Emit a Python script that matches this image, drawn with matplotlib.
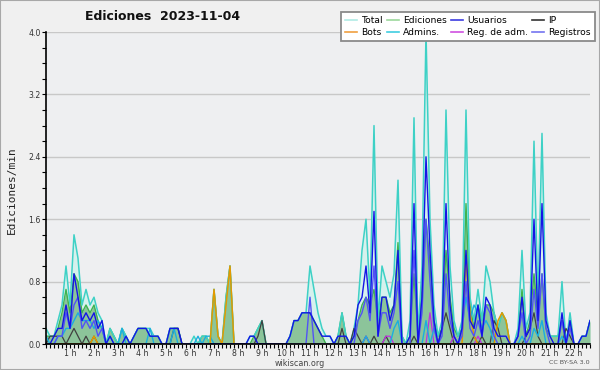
import numpy as np
import matplotlib
matplotlib.use("Agg")
import matplotlib.pyplot as plt
from matplotlib.lines import Line2D
from matplotlib.patches import Rectangle
from matplotlib.ticker import MultipleLocator, FixedLocator, FuncFormatter

# 10-minute steps from 0h00 to 22h40, edits per minute
total = [
    0.2, 0.1, 0.1, 0.3, 0.5, 1.0,
    0.5, 1.4, 1.1, 0.5, 0.7, 0.5,
    0.6, 0.4, 0.3, 0.0, 0.2, 0.1,
    0.0, 0.2, 0.1, 0.0, 0.1, 0.2,
    0.2, 0.2, 0.2, 0.1, 0.1, 0.0,
    0.0, 0.2, 0.2, 0.2, 0.0, 0.0,
    0.0, 0.1, 0.0, 0.1, 0.1, 0.0,
    0.7, 0.1, 0.0, 0.6, 1.0, 0.0,
    0.0, 0.0, 0.0, 0.1, 0.1, 0.2,
    0.3, 0.0, 0.0, 0.0, 0.0, 0.0,
    0.0, 0.1, 0.3, 0.3, 0.4, 0.4,
    1.0, 0.7, 0.4, 0.2, 0.1, 0.1,
    0.0, 0.1, 0.4, 0.1, 0.0, 0.2,
    0.5, 1.2, 1.6, 0.6, 2.8, 0.3,
    1.0, 0.8, 0.6, 0.9, 2.1, 0.1,
    0.0, 0.3, 2.9, 0.1, 1.0, 4.0,
    1.6, 0.5, 0.1, 0.3, 3.0, 1.0,
    0.3, 0.1, 0.3, 3.0, 0.6, 0.3,
    0.7, 0.3, 1.0, 0.8, 0.4, 0.2,
    0.4, 0.3, 0.0, 0.0, 0.2, 1.2,
    0.2, 0.4, 2.6, 0.5, 2.7, 0.4,
    0.1, 0.1, 0.1, 0.8, 0.0, 0.4,
    0.0, 0.0, 0.1, 0.1, 0.3,
]
ediciones = [
    0.1, 0.1, 0.1, 0.2, 0.4, 0.7,
    0.4, 0.9, 0.8, 0.4, 0.5, 0.4,
    0.5, 0.3, 0.2, 0.0, 0.2, 0.1,
    0.0, 0.2, 0.1, 0.0, 0.1, 0.2,
    0.2, 0.2, 0.1, 0.1, 0.1, 0.0,
    0.0, 0.2, 0.2, 0.2, 0.0, 0.0,
    0.0, 0.0, 0.0, 0.1, 0.1, 0.0,
    0.7, 0.1, 0.0, 0.6, 1.0, 0.0,
    0.0, 0.0, 0.0, 0.0, 0.1, 0.2,
    0.3, 0.0, 0.0, 0.0, 0.0, 0.0,
    0.0, 0.1, 0.3, 0.3, 0.4, 0.4,
    0.4, 0.3, 0.2, 0.1, 0.0, 0.0,
    0.0, 0.1, 0.4, 0.1, 0.0, 0.1,
    0.3, 0.5, 0.6, 0.5, 0.7, 0.3,
    0.6, 0.6, 0.4, 0.5, 1.3, 0.1,
    0.0, 0.1, 0.9, 0.1, 0.7, 1.6,
    1.0, 0.3, 0.1, 0.2, 1.2, 0.6,
    0.2, 0.1, 0.2, 1.8, 0.5, 0.2,
    0.5, 0.3, 0.5, 0.5, 0.4, 0.2,
    0.4, 0.3, 0.0, 0.0, 0.1, 0.7,
    0.1, 0.3, 0.9, 0.3, 0.9, 0.2,
    0.1, 0.1, 0.1, 0.3, 0.0, 0.3,
    0.0, 0.0, 0.1, 0.1, 0.3,
]
usuarios = [
    0.0, 0.0, 0.1, 0.2, 0.2, 0.5,
    0.2, 0.9, 0.6, 0.3, 0.4, 0.3,
    0.4, 0.2, 0.3, 0.0, 0.1, 0.0,
    0.0, 0.0, 0.1, 0.0, 0.1, 0.2,
    0.2, 0.2, 0.1, 0.1, 0.1, 0.0,
    0.0, 0.2, 0.2, 0.2, 0.0, 0.0,
    0.0, 0.0, 0.0, 0.0, 0.0, 0.0,
    0.0, 0.0, 0.0, 0.0, 0.0, 0.0,
    0.0, 0.0, 0.0, 0.1, 0.1, 0.0,
    0.0, 0.0, 0.0, 0.0, 0.0, 0.0,
    0.0, 0.1, 0.3, 0.3, 0.4, 0.4,
    0.4, 0.3, 0.2, 0.1, 0.1, 0.1,
    0.0, 0.1, 0.1, 0.1, 0.0, 0.1,
    0.5, 0.6, 1.0, 0.4, 1.7, 0.1,
    0.6, 0.6, 0.3, 0.5, 1.2, 0.0,
    0.0, 0.1, 1.8, 0.0, 0.6, 2.4,
    1.2, 0.3, 0.0, 0.2, 1.8, 0.5,
    0.1, 0.0, 0.2, 1.2, 0.3, 0.2,
    0.5, 0.1, 0.6, 0.5, 0.2, 0.1,
    0.1, 0.1, 0.0, 0.0, 0.1, 0.6,
    0.1, 0.2, 1.6, 0.3, 1.8, 0.3,
    0.1, 0.0, 0.0, 0.4, 0.0, 0.3,
    0.0, 0.0, 0.1, 0.1, 0.3,
]
registros = [
    0.0, 0.0, 0.0, 0.1, 0.1, 0.4,
    0.2, 0.5, 0.6, 0.2, 0.3, 0.2,
    0.3, 0.1, 0.2, 0.0, 0.0, 0.0,
    0.0, 0.0, 0.0, 0.0, 0.0, 0.0,
    0.0, 0.0, 0.0, 0.0, 0.0, 0.0,
    0.0, 0.0, 0.0, 0.0, 0.0, 0.0,
    0.0, 0.0, 0.0, 0.0, 0.0, 0.0,
    0.0, 0.0, 0.0, 0.0, 0.0, 0.0,
    0.0, 0.0, 0.0, 0.0, 0.0, 0.0,
    0.0, 0.0, 0.0, 0.0, 0.0, 0.0,
    0.0, 0.0, 0.0, 0.0, 0.0, 0.0,
    0.6, 0.0, 0.0, 0.0, 0.0, 0.0,
    0.0, 0.0, 0.0, 0.0, 0.0, 0.0,
    0.3, 0.4, 0.6, 0.3, 1.0, 0.1,
    0.4, 0.4, 0.2, 0.4, 0.8, 0.0,
    0.0, 0.0, 1.2, 0.0, 0.4, 1.6,
    0.8, 0.2, 0.0, 0.1, 0.9, 0.3,
    0.1, 0.0, 0.1, 0.8, 0.2, 0.1,
    0.3, 0.1, 0.5, 0.4, 0.1, 0.0,
    0.0, 0.0, 0.0, 0.0, 0.1, 0.4,
    0.0, 0.1, 0.7, 0.2, 0.9, 0.2,
    0.0, 0.0, 0.0, 0.3, 0.0, 0.2,
    0.0, 0.0, 0.0, 0.0, 0.0,
]
ip = [
    0.0, 0.1, 0.1, 0.1, 0.1, 0.0,
    0.1, 0.2, 0.1, 0.0, 0.1, 0.0,
    0.1, 0.0, 0.0, 0.0, 0.0, 0.0,
    0.0, 0.0, 0.0, 0.0, 0.0, 0.0,
    0.0, 0.0, 0.0, 0.0, 0.0, 0.0,
    0.0, 0.0, 0.2, 0.2, 0.0, 0.0,
    0.0, 0.0, 0.0, 0.0, 0.0, 0.0,
    0.0, 0.0, 0.0, 0.0, 0.0, 0.0,
    0.0, 0.0, 0.0, 0.0, 0.0, 0.1,
    0.3, 0.0, 0.0, 0.0, 0.0, 0.0,
    0.0, 0.0, 0.0, 0.0, 0.0, 0.0,
    0.0, 0.0, 0.0, 0.0, 0.0, 0.0,
    0.0, 0.0, 0.2, 0.0, 0.0, 0.2,
    0.1, 0.0, 0.1, 0.0, 0.1, 0.0,
    0.0, 0.1, 0.0, 0.0, 0.0, 0.0,
    0.0, 0.0, 0.1, 0.0, 0.0, 0.0,
    0.0, 0.0, 0.0, 0.2, 0.4, 0.2,
    0.0, 0.0, 0.0, 0.0, 0.0, 0.1,
    0.0, 0.1, 0.0, 0.0, 0.3, 0.2,
    0.0, 0.0, 0.0, 0.0, 0.0, 0.0,
    0.1, 0.2, 0.4, 0.1, 0.0, 0.0,
    0.0, 0.0, 0.0, 0.0, 0.2, 0.1,
    0.0, 0.0, 0.0, 0.0, 0.0,
]
admins = [
    0.1, 0.0, 0.0, 0.1, 0.1, 0.2,
    0.2, 0.3, 0.4, 0.3, 0.3, 0.3,
    0.2, 0.3, 0.2, 0.0, 0.1, 0.0,
    0.0, 0.2, 0.0, 0.0, 0.0, 0.0,
    0.0, 0.0, 0.2, 0.0, 0.0, 0.0,
    0.0, 0.0, 0.2, 0.0, 0.0, 0.0,
    0.0, 0.0, 0.1, 0.0, 0.1, 0.1,
    0.0, 0.0, 0.0, 0.0, 0.0, 0.0,
    0.0, 0.0, 0.0, 0.0, 0.0, 0.0,
    0.0, 0.0, 0.0, 0.0, 0.0, 0.0,
    0.0, 0.0, 0.0, 0.0, 0.0, 0.0,
    0.0, 0.0, 0.0, 0.0, 0.0, 0.0,
    0.0, 0.0, 0.0, 0.0, 0.0, 0.0,
    0.0, 0.0, 0.1, 0.0, 0.0, 0.0,
    0.0, 0.0, 0.0, 0.2, 0.3, 0.0,
    0.0, 0.0, 0.0, 0.0, 0.0, 0.3,
    0.0, 0.2, 0.0, 0.0, 0.0, 0.0,
    0.0, 0.0, 0.2, 0.6, 0.3, 0.5,
    0.4, 0.2, 0.3, 0.2, 0.0, 0.0,
    0.0, 0.0, 0.0, 0.0, 0.0, 0.1,
    0.0, 0.0, 0.2, 0.1, 0.3, 0.0,
    0.0, 0.0, 0.0, 0.1, 0.0, 0.0,
    0.0, 0.0, 0.0, 0.0, 0.0,
]
bots = [
    0.0, 0.0, 0.0, 0.0, 0.0, 0.0,
    0.0, 0.0, 0.0, 0.0, 0.0, 0.0,
    0.1, 0.0, 0.0, 0.0, 0.0, 0.0,
    0.0, 0.0, 0.0, 0.0, 0.0, 0.0,
    0.0, 0.0, 0.0, 0.0, 0.0, 0.0,
    0.0, 0.0, 0.0, 0.0, 0.0, 0.0,
    0.0, 0.0, 0.0, 0.0, 0.0, 0.0,
    0.7, 0.1, 0.0, 0.5, 1.0, 0.0,
    0.0, 0.0, 0.0, 0.0, 0.0, 0.0,
    0.0, 0.0, 0.0, 0.0, 0.0, 0.0,
    0.0, 0.0, 0.0, 0.0, 0.0, 0.0,
    0.0, 0.0, 0.0, 0.0, 0.0, 0.0,
    0.0, 0.0, 0.0, 0.0, 0.0, 0.0,
    0.0, 0.0, 0.0, 0.0, 0.0, 0.0,
    0.0, 0.0, 0.0, 0.0, 0.0, 0.0,
    0.0, 0.0, 0.0, 0.0, 0.0, 0.0,
    0.0, 0.0, 0.0, 0.0, 0.0, 0.0,
    0.0, 0.0, 0.0, 1.1, 0.4, 0.1,
    0.0, 0.0, 0.0, 0.0, 0.0, 0.3,
    0.4, 0.3, 0.0, 0.0, 0.0, 0.0,
    0.0, 0.0, 0.0, 0.0, 0.0, 0.0,
    0.0, 0.0, 0.0, 0.0, 0.0, 0.0,
    0.0, 0.0, 0.0, 0.0, 0.0,
]
reg_adm = [
    0.0, 0.0, 0.0, 0.0, 0.0, 0.0,
    0.0, 0.0, 0.0, 0.0, 0.0, 0.0,
    0.0, 0.0, 0.0, 0.0, 0.0, 0.0,
    0.0, 0.0, 0.0, 0.0, 0.0, 0.0,
    0.0, 0.0, 0.0, 0.0, 0.0, 0.0,
    0.0, 0.0, 0.0, 0.0, 0.0, 0.0,
    0.0, 0.0, 0.0, 0.0, 0.0, 0.0,
    0.0, 0.0, 0.0, 0.0, 0.0, 0.0,
    0.0, 0.0, 0.0, 0.0, 0.0, 0.0,
    0.0, 0.0, 0.0, 0.0, 0.0, 0.0,
    0.0, 0.0, 0.0, 0.0, 0.0, 0.0,
    0.0, 0.0, 0.0, 0.0, 0.0, 0.0,
    0.0, 0.0, 0.0, 0.0, 0.0, 0.0,
    0.0, 0.0, 0.1, 0.0, 0.0, 0.0,
    0.0, 0.1, 0.1, 0.0, 0.0, 0.0,
    0.0, 0.0, 0.0, 0.0, 0.0, 0.0,
    0.4, 0.0, 0.0, 0.0, 0.0, 0.0,
    0.1, 0.0, 0.0, 0.0, 0.0, 0.0,
    0.1, 0.0, 0.0, 0.0, 0.0, 0.0,
    0.0, 0.0, 0.0, 0.0, 0.0, 0.0,
    0.0, 0.0, 0.0, 0.0, 0.0, 0.0,
    0.0, 0.0, 0.0, 0.0, 0.0, 0.0,
    0.0, 0.0, 0.0, 0.0, 0.0,
]

hour_ticks = list(range(1, 23))
hour_labels = [f"{h} h" for h in hour_ticks]
y_ticks = [0.0, 0.8, 1.6, 2.4, 3.2, 4.0]
title = "Ediciones  2023-11-04"
legend_labels = ["Total", "Ediciones", "Usuarios", "IP",
                 "Bots", "Admins.", "Reg. de adm.", "Registros"]

hours = np.arange(len(total)) / 6.0

fig = plt.figure(figsize=(6.0, 3.7), dpi=100, facecolor="#f0f0f0")
ax = fig.add_axes([46 / 600, 26 / 370, 544 / 600, 312 / 370])
ax.set_facecolor("#eeeff1")

ax.fill_between(hours, total, color="#d6f1ed", lw=0, zorder=1)
ax.fill_between(hours, ediciones, color="#8cc49a", lw=0, zorder=2)
ax.plot(hours, ediciones, color="#3fb34f", lw=1.0, zorder=3)
ax.plot(hours, total, color="#3ed1c6", lw=1.1, zorder=4)
ax.plot(hours, ip, color="#404040", lw=0.9, zorder=5)
ax.plot(hours, reg_adm, color="#c030e0", lw=0.9, zorder=5)
ax.plot(hours, admins, color="#1aaee0", lw=1.0, zorder=6)
ax.plot(hours, bots, color="#e39a00", lw=1.1, zorder=6)
ax.plot(hours, registros, color="#5252f6", lw=1.0, zorder=7)
ax.plot(hours, usuarios, color="#1414e6", lw=1.0, zorder=8)

ax.set_xlim(0, hours[-1])
ax.set_ylim(0, 4.0)
ax.xaxis.set_major_locator(FixedLocator(hour_ticks))
ax.set_xticks(hour_ticks, hour_labels)
ax.xaxis.set_minor_locator(MultipleLocator(1 / 6))
ax.set_yticks(y_ticks)
ax.yaxis.set_major_formatter(FuncFormatter(lambda v, p: f"{v:.1f}"))
ax.yaxis.set_minor_locator(MultipleLocator(0.2))
ax.tick_params(axis="both", which="both", direction="out", length=3, width=0.8,
               color="black", labelsize=5.6, labelcolor="#333333", pad=0.8)
ax.grid(axis="y", which="major", color="#c8c8c8", lw=1.0, zorder=0)
ax.set_axisbelow(True)
for s in ("top", "right"):
    ax.spines[s].set_visible(False)
for s in ("left", "bottom"):
    ax.spines[s].set_linewidth(1.2)
    ax.spines[s].set_zorder(10)

fig.text(12 / 600, 1 - 190 / 370, "Ediciones/min", rotation=90, ha="center",
         va="center", fontsize=8, family="DejaVu Sans Mono", color="#222222")
fig.text(85 / 600, 1 - 17 / 370, title, fontsize=9, fontweight="bold",
         ha="left", va="center", color="#111111")
fig.text(300 / 600, 1 - 363 / 370, "wikiscan.org", fontsize=5.8, ha="center",
         va="center", color="#444444")
fig.text(590 / 600, 1 - 363 / 370, "CC BY-SA 3.0", fontsize=4.6, ha="right",
         va="center", color="#555555")

leg_colors = ["#b0ebe5", "#9cd89c", "#3c3ce0", "#333333",
              "#f0a040", "#40cde0", "#d050e0", "#7474f0"]
handles = [Line2D([], [], color=c, lw=1.2) for c in leg_colors]
order = [0, 4, 1, 5, 2, 6, 3, 7]
leg = fig.legend([handles[i] for i in order], [legend_labels[i] for i in order],
                 ncol=4, loc="upper right", bbox_to_anchor=(595 / 600, 1 - 12 / 370),
                 fontsize=6.6, frameon=True, fancybox=False, framealpha=1,
                 edgecolor="#8a8a8a", facecolor="white", handlelength=1.3,
                 handletextpad=0.45, columnspacing=0.45, labelspacing=0.3,
                 borderpad=0.45, borderaxespad=0)
leg.get_frame().set_linewidth(1.3)

fig.patches.append(Rectangle((0, 0), 1, 1, transform=fig.transFigure, fill=False,
                             edgecolor="#a8a8a8", lw=1.5))

fig.savefig("out.png", dpi=100, facecolor=fig.get_facecolor())
